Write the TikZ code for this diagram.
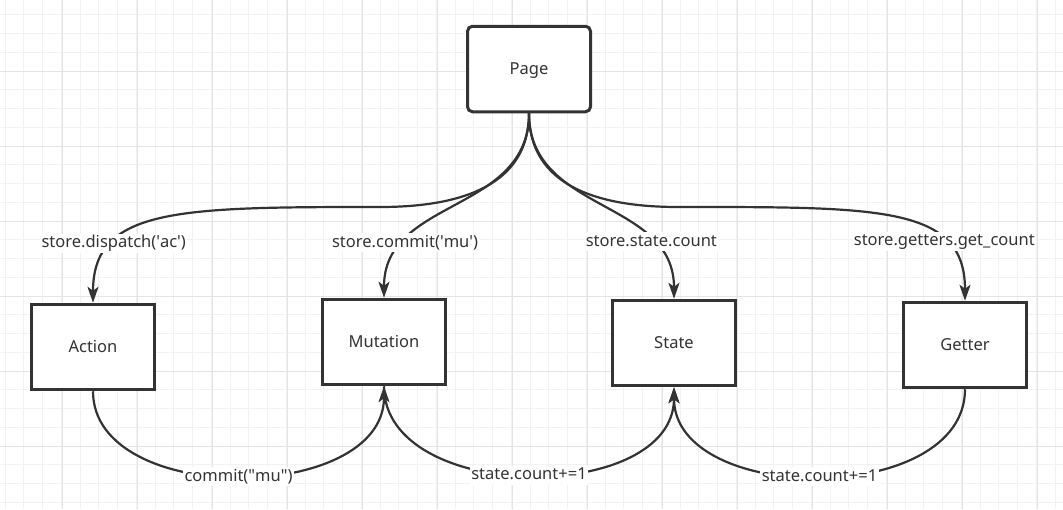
\documentclass[tikz,border=0pt]{standalone}
\usepackage{fontspec}
\setmainfont{Noto Sans}
\usetikzlibrary{arrows.meta}
\definecolor{ink}{HTML}{333333}
\definecolor{gridminor}{HTML}{F2F2F2}
\definecolor{gridmajor}{HTML}{E4E4E4}
\tikzset{
  box/.style={draw=ink,line width=3pt,fill=white,text=ink,minimum width=123pt,minimum height=85.5pt,inner sep=0pt,text height=11.8pt,text depth=0pt},
  flow/.style={draw=ink,line width=2.2pt,-{Stealth[length=16pt,width=11pt,inset=4pt]}},
  lbl/.style={fill=white,text=ink,inner sep=1.5pt,text height=12.5pt,text depth=3.5pt},
}
\begin{document}
\begin{tikzpicture}[x=1pt,y=-1pt,font=\fontsize{16.5}{20}\selectfont]
    \useasboundingbox (0,0) rectangle (1063,509);
    \fill[white] (0,0) rectangle (1063,509);
    % grid
    \foreach \i in {0,...,56} \draw[gridminor,line width=1pt] (5+18.75*\i,0) -- (5+18.75*\i,509);
    \foreach \i in {0,...,26} \draw[gridminor,line width=1pt] (0,14.75+18.75*\i) -- (1063,14.75+18.75*\i);
    \foreach \i in {1,...,14} \draw[gridmajor,line width=1pt] (-13+75*\i,0) -- (-13+75*\i,509);
    \foreach \i in {1,...,6} \draw[gridmajor,line width=1pt] (0,-4+75*\i) -- (1063,-4+75*\i);

    \node[box,rounded corners=5pt] (page) at (529,69) {Page};
    \node[box] (action) at (93,347) {Action};
    \node[box] (mutation) at (384,342) {Mutation};
    \node[box] (state) at (674,343) {State};
    \node[box] (getter) at (965,345) {Getter};

    % from the page
    \draw[flow] (page.south) .. controls +(0,47) and +(120,0) .. (380,207)
        .. controls +(-202,0) and +(0,-95) .. (action.north) node[lbl,pos=0.72] {store.dispatch(\textquotesingle ac\textquotesingle)};
    \path (page.south) edge[flow,controls={+(0,100) and +(0,-100)}] node[lbl,pos=0.76] {store.commit(\textquotesingle mu\textquotesingle)} (mutation.north);
    \path (page.south) edge[flow,controls={+(0,100) and +(0,-100)}] node[lbl,pos=0.75] {store.state.count} (state.north);
    \draw[flow] (page.south) .. controls +(0,47) and +(-120,0) .. (678,207)
        .. controls +(202,0) and +(0,-95) .. (getter.north) node[lbl,pos=0.72] {store.getters.get\_count};

    % along the bottom
    \path (action.south) edge[flow,controls={+(0,116) and +(0,118)}] node[lbl] {commit(\textquotedbl mu\textquotedbl)} (mutation.south);
    \path (mutation.south) edge[flow,controls={+(0,118) and +(0,118)}] node[lbl] {state.count+=1} (state.south);
    \path (getter.south) edge[flow,controls={+(0,118) and +(0,118)}] node[lbl] {state.count+=1} (state.south);

\end{tikzpicture}
\end{document}
